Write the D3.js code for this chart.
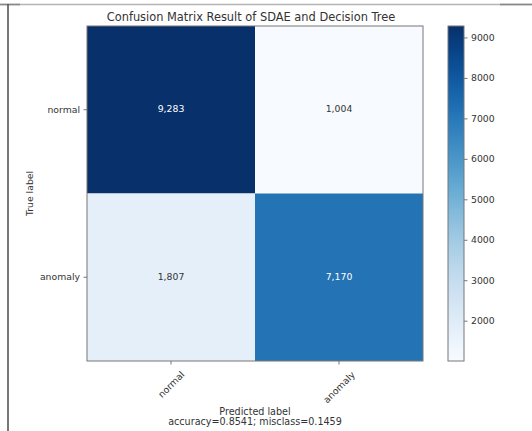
<!DOCTYPE html>
<html>
<head>
<meta charset="utf-8">
<script src="https://cdn.jsdelivr.net/npm/d3@7"></script>
<style>
  html, body { margin: 0; padding: 0; background: #fff; }
  svg { display: block; font-family: "DejaVu Sans", sans-serif; }
</style>
</head>
<body>
<svg id="chart" width="532" height="431"></svg>
<script>
// Confusion matrix: rows = true label, columns = predicted label
const classes = ["normal", "anomaly"];
const matrixRows = [
  [9283, 1004],
  [1807, 7170]
];
const colorbarTicks = [2000, 3000, 4000, 5000, 6000, 7000, 8000, 9000];
const titleText = "Confusion Matrix Result of SDAE and Decision Tree";
const xLabelText = "Predicted label";
const statsText = "accuracy=0.8541; misclass=0.1459";
const yLabelText = "True label";

const svg = d3.select("#chart");
const textColor = "#333";
const spineColor = "#777";

// page frame lines
svg.append("line").attr("x1", 0).attr("x2", 532).attr("y1", 4.5).attr("y2", 4.5)
  .attr("stroke", "#b4b4b4").attr("stroke-width", 1.6);
svg.append("line").attr("x1", 0).attr("x2", 20).attr("y1", 4.5).attr("y2", 4.5)
  .attr("stroke", "#8a8a8a").attr("stroke-width", 1.6);
svg.append("line").attr("x1", 500).attr("x2", 532).attr("y1", 4.5).attr("y2", 4.5)
  .attr("stroke", "#8a8a8a").attr("stroke-width", 1.6);
svg.append("line").attr("x1", 8).attr("x2", 8).attr("y1", 4).attr("y2", 431)
  .attr("stroke", "#555").attr("stroke-width", 1.6);

// plot geometry
const plot = { left: 87, right: 423, top: 26, bottom: 361 };

const x = d3.scaleBand().domain(classes).range([plot.left, plot.right]);
const y = d3.scaleBand().domain(classes).range([plot.top, plot.bottom]);

const allValues = matrixRows.flat();
const vmin = d3.min(allValues), vmax = d3.max(allValues);
const color = d3.scaleSequential(d3.interpolateBlues).domain([vmin, vmax]);

const cells = [];
matrixRows.forEach((row, i) => row.forEach((v, j) => {
  cells.push({ trueLabel: classes[i], predLabel: classes[j], value: v });
}));

const g = svg.append("g");
g.selectAll("rect.cell").data(cells).join("rect")
  .attr("class", "cell")
  .attr("x", d => x(d.predLabel))
  .attr("y", d => y(d.trueLabel))
  .attr("width", x.bandwidth())
  .attr("height", y.bandwidth())
  .attr("fill", d => color(d.value));

const fmt = d3.format(",");
const thresh = vmax / 2;
g.selectAll("text.val").data(cells).join("text")
  .attr("class", "val")
  .attr("x", d => x(d.predLabel) + x.bandwidth() / 2)
  .attr("y", d => y(d.trueLabel) + y.bandwidth() / 2 - 1)
  .attr("text-anchor", "middle")
  .attr("dominant-baseline", "central")
  .attr("font-size", "9.3px")
  .attr("fill", d => d.value > thresh ? "#fff" : textColor)
  .text(d => fmt(d.value));

// spines
g.append("rect")
  .attr("x", plot.left).attr("y", plot.top)
  .attr("width", plot.right - plot.left).attr("height", plot.bottom - plot.top)
  .attr("fill", "none").attr("stroke", spineColor).attr("stroke-width", 1);

// y axis
const yAxis = svg.append("g").attr("transform", `translate(${plot.left},0)`)
  .call(d3.axisLeft(y).tickSize(3.5).tickPadding(3.5));
yAxis.select(".domain").remove();
yAxis.selectAll(".tick line").attr("stroke", spineColor);
yAxis.selectAll(".tick text").attr("font-size", "9.3px").attr("fill", textColor)
  .attr("font-family", "DejaVu Sans, sans-serif");

// x axis with 45° rotated labels centred under each tick
const xAxis = svg.append("g").attr("transform", `translate(0,${plot.bottom})`)
  .call(d3.axisBottom(x).tickSize(3.5));
xAxis.select(".domain").remove();
xAxis.selectAll(".tick line").attr("stroke", spineColor);
xAxis.selectAll(".tick text")
  .attr("font-size", "9.3px").attr("fill", textColor)
  .attr("font-family", "DejaVu Sans, sans-serif")
  .attr("dy", null)
  .attr("text-anchor", "middle")
  .attr("dominant-baseline", "central")
  .each(function () {
    const t = d3.select(this);
    const len = this.getComputedTextLength();
    const boxH = (len + 9.3) * Math.SQRT1_2;
    const cy = 8.5 + boxH / 2;
    t.attr("x", 0).attr("y", 0)
      .attr("transform", `translate(0,${cy}) rotate(-45)`);
  });

// axis titles
svg.append("text")
  .attr("transform", `translate(29,${(plot.top + plot.bottom) / 2}) rotate(-90)`)
  .attr("text-anchor", "middle").attr("dominant-baseline", "central")
  .attr("font-size", "9.3px").attr("fill", textColor)
  .text(yLabelText);

svg.append("text")
  .attr("x", (plot.left + plot.right) / 2).attr("y", 414.5)
  .attr("text-anchor", "middle")
  .attr("font-size", "9.6px").attr("fill", textColor)
  .text(xLabelText);
svg.append("text")
  .attr("x", (plot.left + plot.right) / 2).attr("y", 424.5)
  .attr("text-anchor", "middle")
  .attr("font-size", "9.6px").attr("fill", textColor)
  .text(statsText);

// title
svg.append("text")
  .attr("x", (plot.left + plot.right) / 2 - 4).attr("y", 20.5)
  .attr("text-anchor", "middle")
  .attr("font-size", "11.4px").attr("fill", textColor)
  .text(titleText);

// colorbar
const cb = { left: 448, right: 464, top: plot.top, bottom: plot.bottom };
const cbScale = d3.scaleLinear().domain([vmin, vmax]).range([cb.bottom, cb.top]);
const grad = svg.append("defs").append("linearGradient")
  .attr("id", "cbgrad").attr("x1", 0).attr("x2", 0).attr("y1", 1).attr("y2", 0);
d3.range(0, 1.0001, 0.05).forEach(t => {
  grad.append("stop").attr("offset", t).attr("stop-color", d3.interpolateBlues(t));
});
svg.append("rect")
  .attr("x", cb.left).attr("y", cb.top)
  .attr("width", cb.right - cb.left).attr("height", cb.bottom - cb.top)
  .attr("fill", "url(#cbgrad)")
  .attr("stroke", spineColor).attr("stroke-width", 1);

const cbAxis = svg.append("g").attr("transform", `translate(${cb.right},0)`)
  .call(d3.axisRight(cbScale).tickValues(colorbarTicks).tickSize(3.5).tickPadding(3.5)
    .tickFormat(d3.format("d")));
cbAxis.select(".domain").remove();
cbAxis.selectAll(".tick line").attr("stroke", spineColor);
cbAxis.selectAll(".tick text").attr("font-size", "9.3px").attr("fill", textColor)
  .attr("font-family", "DejaVu Sans, sans-serif");
</script>
</body>
</html>
